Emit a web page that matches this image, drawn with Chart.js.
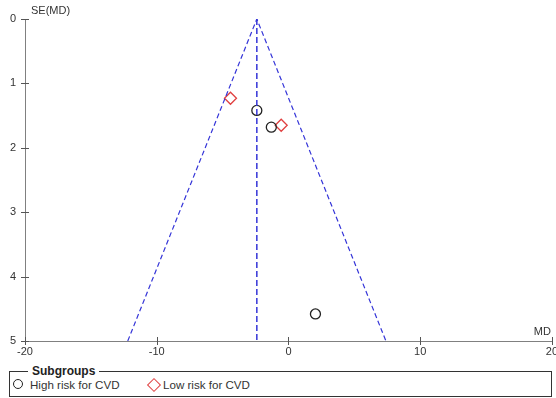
<!DOCTYPE html>
<html>
<head>
<meta charset="utf-8">
<script src="https://cdn.jsdelivr.net/npm/chart.js@4"></script>
<style>
  body { margin: 0; background: #fff; font-family: "Liberation Sans", Arial, sans-serif; }
  #wrap { position: absolute; left: 0; top: 0; width: 556px; height: 362px; overflow: hidden; }
  #caixa {
    position: absolute; left: 9px; top: 371px; width: 543px; height: 26px;
    border: 1px solid #333; box-sizing: border-box;
  }
  #titulo {
    position: absolute; left: 28px; top: 365px; background: #fff; padding: 0 4px;
    font-size: 12px; font-weight: bold; color: #222; line-height: 13px;
  }
  .item { position: absolute; top: 378px; font-size: 11.6px; color: #333; line-height: 14px; }
  .circ { position: absolute; left: 13px; top: 379px; width: 8px; height: 8px; border: 1.5px solid #222; border-radius: 50%; }
  .diam { position: absolute; left: 149px; top: 380px; width: 8px; height: 8px; border: 1.5px solid #e04040; transform: rotate(45deg); }
</style>
</head>
<body>
<div id="wrap"><canvas id="funil" width="562" height="362"></canvas></div>
<div id="caixa"></div>
<div id="titulo">Subgroups</div>
<span class="circ"></span><span class="item" style="left:30px">High risk for CVD</span>
<span class="diam"></span><span class="item" style="left:163px">Low risk for CVD</span>
<script>
// dados
const altoRiscoMD = [-2.4, -1.3, 2.05];
const altoRiscoSE = [1.42, 1.68, 4.58];
const baixoRiscoMD = [-4.4, -0.55];
const baixoRiscoSE = [1.23, 1.65];

// funil (limites 95%) e estimativa combinada
const funilX = [-12.2, -2.4, 7.4];
const funilY = [5, 0, 5];
const linhaCentralX = [-2.4, -2.4];
const linhaCentralY = [0, 5];

const xTicks = [-20, -10, 0, 10, 20];
const yTicks = [0, 1, 2, 3, 4, 5];

const pontos = (xs, ys) => xs.map((x, i) => ({ x: x, y: ys[i] }));

const corEixo = '#808080';
const corTexto = '#333';

// desenha os traços dos ticks cruzando o eixo e os títulos dos eixos
const eixosPlugin = {
    id: 'eixos',
    afterDraw(chart) {
        const c = chart.ctx;
        const xs = chart.scales.x;
        const ys = chart.scales.y;
        c.save();
        c.strokeStyle = '#555';
        c.lineWidth = 1;
        c.beginPath();
        xTicks.forEach(v => {
            const px = Math.round(xs.getPixelForValue(v)) + 0.5;
            c.moveTo(px, ys.bottom - 4);
            c.lineTo(px, ys.bottom + 4);
        });
        yTicks.forEach(v => {
            const py = Math.round(ys.getPixelForValue(v)) + 0.5;
            c.moveTo(xs.left - 4, py);
            c.lineTo(xs.left + 4, py);
        });
        c.stroke();
        c.fillStyle = corTexto;
        c.font = '11px "Liberation Sans", Arial, sans-serif';
        c.textBaseline = 'middle';
        c.textAlign = 'left';
        c.fillText('SE(MD)', xs.left + 6, ys.top - 8);
        c.textAlign = 'right';
        c.fillText('MD', xs.right - 1, ys.bottom - 9);
        c.restore();
    }
};

const ctx = document.getElementById('funil').getContext('2d');

const graficoFunil = new Chart(ctx, {
    type: 'scatter',
    data: {
        datasets: [
            {
                label: 'Funil',
                data: pontos(funilX, funilY),
                showLine: true,
                borderColor: '#3535d8',
                borderWidth: 1.2,
                borderDash: [5, 3],
                pointRadius: 0,
                fill: false
            },
            {
                label: 'Estimativa',
                data: pontos(linhaCentralX, linhaCentralY),
                showLine: true,
                borderColor: '#3535d8',
                borderWidth: 1.5,
                borderDash: [6, 3],
                pointRadius: 0,
                fill: false
            },
            {
                label: 'High risk for CVD',
                data: pontos(altoRiscoMD, altoRiscoSE),
                pointStyle: 'circle',
                pointRadius: 5,
                borderColor: '#222',
                borderWidth: 1.3,
                backgroundColor: 'rgba(0,0,0,0)'
            },
            {
                label: 'Low risk for CVD',
                data: pontos(baixoRiscoMD, baixoRiscoSE),
                pointStyle: 'rectRot',
                pointRadius: 6,
                borderColor: '#e04040',
                borderWidth: 1.3,
                backgroundColor: 'rgba(0,0,0,0)'
            }
        ]
    },
    options: {
        responsive: false,
        animation: false,
        layout: { padding: { top: 19, right: 10, left: 0, bottom: 0 } },
        plugins: {
            legend: { display: false },
            tooltip: { enabled: false }
        },
        scales: {
            x: {
                type: 'linear',
                min: -20,
                max: 20,
                afterBuildTicks: s => { s.ticks = xTicks.map(v => ({ value: v })); },
                afterFit: s => { s.height = 21; },
                grid: { display: false, drawTicks: false },
                border: { display: true, color: corEixo, width: 1 },
                ticks: { color: corTexto, font: { size: 11, family: '"Liberation Sans", Arial' }, padding: 4, maxRotation: 0 }
            },
            y: {
                type: 'linear',
                reverse: true,
                min: 0,
                max: 5,
                afterBuildTicks: s => { s.ticks = yTicks.map(v => ({ value: v })); },
                afterFit: s => { s.width = 25; },
                grid: { display: false, drawTicks: false },
                border: { display: true, color: corEixo, width: 1 },
                ticks: { color: corTexto, font: { size: 11, family: '"Liberation Sans", Arial' }, padding: 9 }
            }
        }
    },
    plugins: [eixosPlugin]
});
</script>
</body>
</html>
